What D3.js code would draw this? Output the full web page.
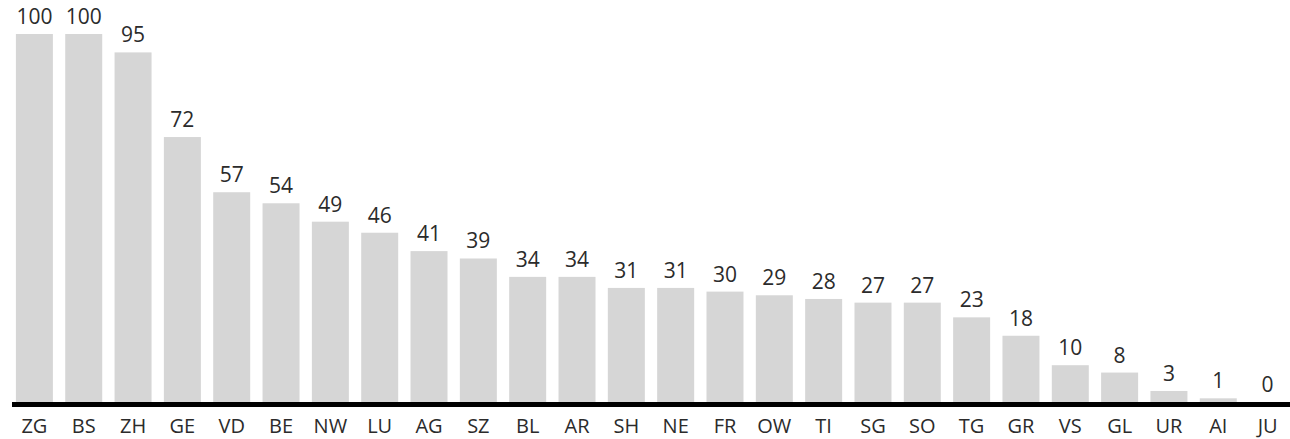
<!DOCTYPE html>
<meta charset="utf-8">
<script src="https://d3js.org/d3.v7.min.js"></script>
<style>
  body { margin: 0; background: #fff; }
  text { font-family: "Open Sans", sans-serif; fill: #2b2b2b; }
</style>
<svg id="chart" width="1290" height="439"></svg>
<script>
  // cantons and their values
  var cantons = ["ZG","BS","ZH","GE","VD","BE","NW","LU","AG","SZ","BL","AR","SH","NE","FR","OW","TI","SG","SO","TG","GR","VS","GL","UR","AI","JU"];
  var values = [100,100,95,72,57,54,49,46,41,39,34,34,31,31,30,29,28,27,27,23,18,10,8,3,1,0];

  var svg = d3.select("#chart"),
      width = +svg.attr("width"),
      height = +svg.attr("height");

  var x = d3.scaleBand()
      .domain(cantons)
      .range([8.5, 1293.5])
      .paddingInner(0.25)
      .paddingOuter(0.15);

  var y = d3.scaleLinear()
      .domain([0, 100])
      .range([402, 34]);

  var data = cantons.map(function(c, i) { return { c: c, v: values[i] }; });

  // bars
  svg.append("g")
    .selectAll("rect")
    .data(data)
    .enter()
    .append("rect")
      .attr("x", function(d) { return x(d.c); })
      .attr("y", function(d) { return y(d.v); })
      .attr("width", x.bandwidth())
      .attr("height", function(d) { return y(0) - y(d.v); })
      .attr("fill", "#d6d6d6");

  // value labels
  svg.append("g")
    .selectAll("text")
    .data(data)
    .enter()
    .append("text")
      .attr("x", function(d) { return x(d.c) + x.bandwidth() / 2; })
      .attr("y", function(d) { return y(d.v) - 10; })
      .attr("text-anchor", "middle")
      .style("font-size", "21px")
      .style("font-weight", 500)
      .text(function(d) { return d.v; });

  // baseline axis
  var axis = svg.append("g")
      .attr("transform", "translate(0," + 404.5 + ")")
      .call(d3.axisBottom(x).tickSize(0).tickPadding(14));
  axis.select(".domain")
      .attr("d", "M12,0H1290")
      .attr("stroke", "#000")
      .attr("stroke-width", 5);
  axis.selectAll("text")
      .style("font-size", "20px")
      .style("font-weight", 500)
      .style("font-family", "'Open Sans', sans-serif")
      .attr("fill", "#2b2b2b");
</script>
